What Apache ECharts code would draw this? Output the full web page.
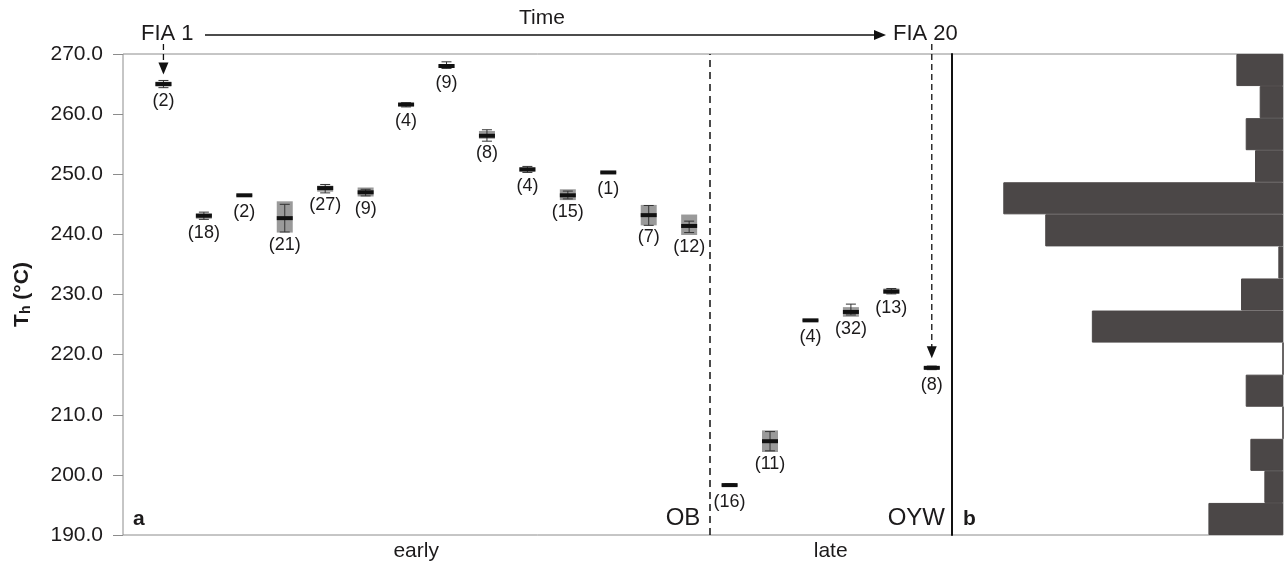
<!DOCTYPE html>
<html>
<head>
<meta charset="utf-8">
<title>Th of FIAs</title>
<script src="https://cdn.jsdelivr.net/npm/echarts@6/dist/echarts.min.js"></script>
<style>
  html, body { margin: 0; padding: 0; background: #fff; }
  #chart { width: 1284px; height: 562px; }
</style>
</head>
<body>
<div id="chart"></div>
<script>
// FIA 1 .. FIA 20, position along the time axis
var fiaPos = [1, 2, 3, 4, 5, 6, 7, 8, 9, 10, 11, 12, 13, 14, 15, 16, 17, 18, 19, 20];
var whiskLow  = [264.4, 242.5, 246.4, 240.4, 246.9, 246.4, 261.2, 267.6, 255.5, 250.3, 245.9, 250.2, 241.5, 240.3, 198.2, 204.0, 225.6, 226.6, 230.1, 217.5];
var boxLow    = [264.6, 242.6, 246.4, 240.3, 247.1, 246.3, 261.3, 267.7, 255.9, 250.4, 245.7, 250.2, 241.5, 239.9, 198.2, 203.8, 225.6, 226.3, 230.1, 217.6];
var median    = [265.0, 243.1, 246.5, 242.7, 247.7, 247.0, 261.6, 268.0, 256.4, 250.8, 246.5, 250.3, 243.2, 241.4, 198.3, 205.6, 225.7, 227.1, 230.5, 217.8];
var boxHigh   = [265.4, 243.5, 246.6, 245.5, 248.1, 247.8, 261.8, 268.3, 257.2, 251.2, 247.5, 250.4, 244.9, 243.3, 198.4, 207.4, 225.8, 227.9, 231.0, 218.0];
var whiskHigh = [265.6, 243.7, 246.6, 245.0, 248.3, 247.5, 261.9, 268.7, 257.4, 251.3, 247.2, 250.4, 244.8, 242.2, 198.5, 207.2, 225.8, 228.4, 231.0, 218.1];
var counts    = [2, 18, 2, 21, 27, 9, 4, 9, 8, 4, 15, 1, 7, 12, 16, 11, 4, 32, 13, 8];

// histogram (panel b), bins from bottom (190) to top (270)
var histBins = ['190.0', '195.3', '200.7', '206.0', '211.3', '216.7', '222.0', '227.3',
                '232.7', '238.0', '243.3', '248.7', '254.0', '259.3', '264.7'];
var histCounts = [16, 4, 7, 0, 8, 0, 41, 9, 1, 51, 60, 6, 8, 5, 10];

var yTicks = [190, 270, 10];   // min, max, step
var splitX = 14.5;            // OB / OYW boundary
var phaseLabels = [[7.25, 'early'], [17.5, 'late']];

var FONT = '"Liberation Sans", Arial, Helvetica, sans-serif';
var TXT = '#1c1a1b';
var AXIS = '#8c8c8c';
var HIST = '#4b4747';

var chart = echarts.init(document.getElementById('chart'));

var boxData = fiaPos.map(function (x, i) {
    return [x, whiskLow[i], boxLow[i], median[i], boxHigh[i], whiskHigh[i], counts[i]];
});

function renderBox(params, api) {
    var x = api.value(0);
    var wLo = api.coord([x, api.value(1)]);
    var bLo = api.coord([x, api.value(2)]);
    var md  = api.coord([x, api.value(3)]);
    var bHi = api.coord([x, api.value(4)]);
    var wHi = api.coord([x, api.value(5)]);
    var cx = md[0];
    var bottom = Math.max(wLo[1], bLo[1]);
    var labelTop = Math.max(bottom + 3, md[1] + 8);
    return {
        type: 'group',
        children: [
            { type: 'rect', shape: { x: cx - 8, y: bHi[1], width: 16, height: Math.max(bLo[1] - bHi[1], 1) },
              style: { fill: '#9a9a9a' } },
            { type: 'line', shape: { x1: cx, y1: wHi[1], x2: cx, y2: wLo[1] },
              style: { stroke: '#333', lineWidth: 1 } },
            { type: 'line', shape: { x1: cx - 5, y1: wHi[1], x2: cx + 5, y2: wHi[1] },
              style: { stroke: '#333', lineWidth: 1 } },
            { type: 'line', shape: { x1: cx - 5, y1: wLo[1], x2: cx + 5, y2: wLo[1] },
              style: { stroke: '#333', lineWidth: 1 } },
            { type: 'rect', shape: { x: cx - 8, y: md[1] - 2, width: 16, height: 4 },
              style: { fill: '#111' } },
            { type: 'text', style: {
                text: '(' + api.value(6) + ')', x: cx, y: labelTop,
                align: 'center', verticalAlign: 'top',
                fontSize: 18, fontFamily: FONT, fill: TXT } }
        ]
    };
}

var option = {
    animation: false,
    grid: [
        { left: 123, top: 54, width: 829, height: 481, show: true, borderColor: AXIS, borderWidth: 1 },
        { left: 952, top: 54, width: 331, height: 481, show: true, borderColor: AXIS, borderWidth: 1 }
    ],
    xAxis: [
        {
            gridIndex: 0, type: 'value', min: 0, max: 20.5,
            axisLine: { show: false }, axisTick: { show: false }, splitLine: { show: false },
            axisLabel: {
                customValues: phaseLabels.map(function (p) { return p[0]; }),
                formatter: function (v) {
                    for (var i = 0; i < phaseLabels.length; i++) {
                        if (Math.abs(phaseLabels[i][0] - v) < 1e-6) return phaseLabels[i][1];
                    }
                    return '';
                },
                margin: 6, fontSize: 21, fontFamily: FONT, color: TXT
            }
        },
        {
            gridIndex: 1, type: 'value', min: 0, max: 71, inverse: true, show: false
        }
    ],
    yAxis: [
        {
            gridIndex: 0, type: 'value', min: yTicks[0], max: yTicks[1], interval: yTicks[2],
            name: '{b|T}{s|h}{b| (°C)}',
            nameLocation: 'middle', nameRotate: 90, nameGap: 90,
            nameTextStyle: {
                rich: {
                    b: { fontSize: 21, fontWeight: 'bold', fontFamily: FONT, color: TXT },
                    s: { fontSize: 14, fontWeight: 'bold', fontFamily: FONT, color: TXT, verticalAlign: 'bottom', padding: [6, 0, 0, 0] }
                }
            },
            axisLine: { show: false },
            axisTick: { show: true, length: 10, lineStyle: { color: AXIS } },
            splitLine: { show: false },
            axisLabel: {
                margin: 20, fontSize: 21, fontFamily: FONT, color: TXT,
                formatter: function (v) { return v.toFixed(1); }
            }
        },
        {
            gridIndex: 1, type: 'category', data: histBins, position: 'left',
            axisLine: { show: true, onZero: false, lineStyle: { color: '#111', width: 2 } },
            axisTick: { show: false }, axisLabel: { show: false }, splitLine: { show: false },
            z: 5
        }
    ],
    series: [
        {
            type: 'custom', xAxisIndex: 0, yAxisIndex: 0,
            renderItem: renderBox, data: boxData, z: 3,
            markLine: {
                silent: true, symbol: 'none', label: { show: false },
                lineStyle: { type: [7, 5], color: '#111', width: 1.5 },
                data: [{ xAxis: splitX }]
            }
        },
        {
            type: 'bar', xAxisIndex: 1, yAxisIndex: 1,
            data: histCounts, barWidth: '100%', barCategoryGap: 0,
            itemStyle: { color: HIST, borderColor: HIST, borderWidth: 1 }
        }
    ]
};
chart.setOption(option);

// annotations: time arrow, FIA pointers, panel letters
var p1 = chart.convertToPixel({ xAxisIndex: 0, yAxisIndex: 0 }, [fiaPos[0], 266.6]);
var p20 = chart.convertToPixel({ xAxisIndex: 0, yAxisIndex: 0 }, [fiaPos[19], 219.4]);
var pSplit = chart.convertToPixel({ xAxisIndex: 0, yAxisIndex: 0 }, [splitX, 190]);
var pEnd = chart.convertToPixel({ xAxisIndex: 0, yAxisIndex: 0 }, [20.5, 190]);

function arrowDown(x, y0, y1) {
    return [
        { type: 'line', shape: { x1: x, y1: y0, x2: x, y2: y1 - 10 },
          style: { stroke: '#111', lineWidth: 1.3, lineDash: [6, 4] } },
        { type: 'polygon', shape: { points: [[x - 5, y1 - 12], [x + 5, y1 - 12], [x, y1]] },
          style: { fill: '#111' } }
    ];
}

var textStyle = function (t, x, y, size, align, weight) {
    return { type: 'text', style: { text: t, x: x, y: y, fontSize: size, fontFamily: FONT,
        fontWeight: weight || 'normal', fill: TXT, align: align, verticalAlign: 'middle' } };
};

chart.setOption({
    graphic: [
        textStyle('FIA 1', 141, 34, 22, 'left'),
        textStyle('FIA 20', 893, 34, 22, 'left'),
        textStyle('Time', 542, 18, 21, 'center'),
        { type: 'line', shape: { x1: 205, y1: 35, x2: 876, y2: 35 }, style: { stroke: '#111', lineWidth: 1.3 } },
        { type: 'polygon', shape: { points: [[874, 30], [874, 40], [886, 35]] }, style: { fill: '#111' } }
    ].concat(arrowDown(p1[0], 44, p1[1]))
     .concat(arrowDown(p20[0], 44, p20[1]))
     .concat([
        textStyle('a', 133, pSplit[1] - 16, 21, 'left', 'bold'),
        textStyle('OB', pSplit[0] - 9, pSplit[1] - 17, 24, 'right'),
        textStyle('OYW', pEnd[0] - 7, pSplit[1] - 17, 24, 'right'),
        textStyle('b', 963, pSplit[1] - 16, 21, 'left', 'bold')
     ])
});

window.addEventListener('resize', function () { chart.resize(); });
</script>
</body>
</html>
